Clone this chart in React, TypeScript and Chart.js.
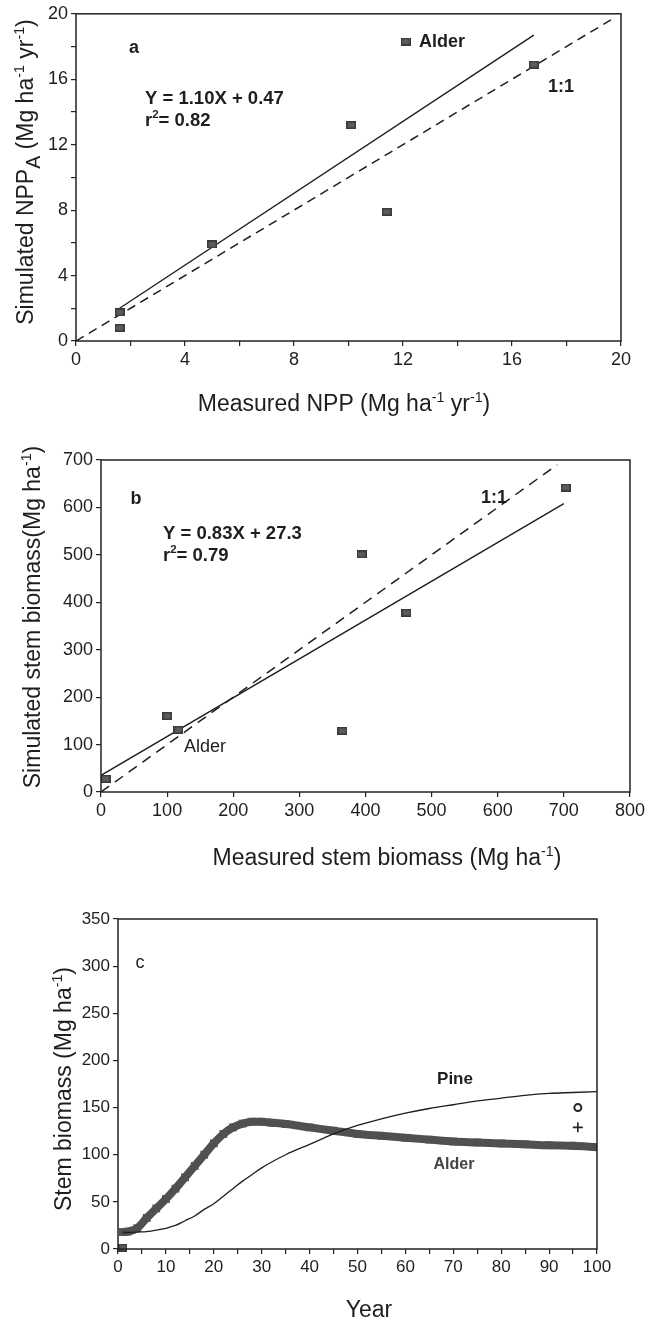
import React, { useEffect, useRef } from 'react';
import { Chart, registerables } from 'chart.js';

Chart.register(...registerables);

const FONT = "'Liberation Sans', Arial, Helvetica, sans-serif";

// ---------- Panel a : NPP ----------
const nppMeasured = [1.6, 1.6, 5.0, 10.1, 11.4, 12.1, 16.8];
const nppSimulated = [1.75, 0.8, 5.9, 13.2, 7.9, 18.3, 16.9];
const nppFitX = [1.6, 16.8];
const nppFitY = [2.0, 18.7];
const nppOneToOne = [0, 19.8];

// ---------- Panel b : stem biomass ----------
const stemMeasured = [7, 100, 117, 365, 394, 462, 703];
const stemSimulated = [28, 160, 131, 129, 501, 378, 642];
const stemFitX = [0, 700];
const stemFitY = [35, 608];
const stemOneToOne = [0, 690];

// ---------- Panel c : time course ----------
const years = [1, 2, 4, 6, 8, 10, 12, 14, 16, 18, 20, 22, 24, 26, 28, 30, 32, 35, 40, 45, 50, 55, 60, 65, 70, 75, 80, 85, 90, 95, 100];
const pineBiomass = [17.5, 17.5, 18, 18.5, 20, 22, 25, 30, 35, 42, 48, 56, 64, 72, 79, 86, 92, 100, 111, 122, 131, 138, 144, 149, 153, 157, 160, 163, 165, 166, 167];
const alderBiomass = [18, 18.5, 22, 33, 43, 53, 64, 76, 88, 100, 112, 122, 129, 133, 135, 135, 134, 132.5, 129, 125.5, 122, 120, 118, 116, 114, 113, 112, 111, 110, 109.5, 108];
const observedYear = [96];
const pineObserved = [150];
const alderObserved = [129];
const alderStartYear = [1];
const alderStartBiomass = [1.5];

type Seg = { t: string; v?: 'sup' | 'sub' };

function drawRich(
  ctx: CanvasRenderingContext2D,
  segs: Seg[],
  x: number,
  y: number,
  size: number,
  opts: { weight?: string; align?: 'left' | 'center'; rotate?: boolean; color?: string } = {}
) {
  ctx.save();
  ctx.translate(x, y);
  if (opts.rotate) ctx.rotate(-Math.PI / 2);
  const w = opts.weight || 'normal';
  const fontFor = (s: Seg) => {
    const fs = s.v === 'sup' ? size * 0.62 : s.v === 'sub' ? size * 0.85 : size;
    return `${w} ${fs}px ${FONT}`;
  };
  let total = 0;
  for (const s of segs) {
    ctx.font = fontFor(s);
    total += ctx.measureText(s.t).width;
  }
  let cx = opts.align === 'center' ? -total / 2 : 0;
  ctx.textBaseline = 'alphabetic';
  ctx.textAlign = 'left';
  ctx.fillStyle = opts.color || '#1e1e1e';
  for (const s of segs) {
    ctx.font = fontFor(s);
    const dy = s.v === 'sup' ? -size * 0.42 : s.v === 'sub' ? size * 0.3 : 0;
    ctx.fillText(s.t, cx, dy + size * 0.36);
    cx += ctx.measureText(s.t).width;
  }
  ctx.restore();
}

const boxPlugin = {
  id: 'box',
  afterDatasetsDraw(chart: any) {
    const { ctx, chartArea: a } = chart;
    ctx.save();
    ctx.strokeStyle = '#222';
    ctx.lineWidth = 1.5;
    ctx.strokeRect(a.left, a.top, a.right - a.left, a.bottom - a.top);
    ctx.restore();
  },
};

function textPlugin(draw: (ctx: CanvasRenderingContext2D) => void) {
  return {
    id: 'texts',
    afterDraw(chart: any) {
      draw(chart.ctx);
    },
  };
}

function axis(min: number, max: number, step: number, labelEvery: number, fit: { width?: number; height?: number }, fontSize: number) {
  return {
    type: 'linear',
    min,
    max,
    ticks: {
      stepSize: step,
      autoSkip: false,
      maxRotation: 0,
      padding: 3,
      color: '#1e1e1e',
      font: { family: FONT, size: fontSize },
      callback: (v: number) => (Math.round(v) % labelEvery === 0 ? String(v) : ''),
    },
    grid: { display: true, drawOnChartArea: false, drawTicks: true, tickLength: 5, color: '#222', lineWidth: 1.2 },
    border: { display: false },
    afterFit: (scale: any) => {
      if (fit.width != null) scale.width = fit.width;
      if (fit.height != null) scale.height = fit.height;
    },
  };
}

function makeMarker(w: number, h: number) {
  const c = document.createElement('canvas');
  c.width = w;
  c.height = h;
  const g = c.getContext('2d')!;
  g.fillStyle = '#3a3a3a';
  g.fillRect(0, 0, w, h);
  g.fillStyle = '#5c5c5c';
  g.fillRect(1.5, 1.5, w - 3, h - 3);
  return c;
}

const pts = (xs: number[], ys: number[]) => xs.map((x, i) => ({ x, y: ys[i] }));

const baseOptions = {
  responsive: false,
  animation: false,
  devicePixelRatio: 1,
  events: [],
  plugins: { legend: { display: false }, tooltip: { enabled: false } },
};

function buildA() {
  const marker = makeMarker(10, 8);
  return {
    type: 'scatter',
    data: {
      datasets: [
        { data: pts(nppMeasured, nppSimulated), pointStyle: marker, pointRadius: 5, showLine: false },
        { data: pts(nppFitX, nppFitY), showLine: true, borderColor: '#1e1e1e', borderWidth: 1.4, pointRadius: 0 },
        { data: pts(nppOneToOne, nppOneToOne), showLine: true, borderColor: '#1e1e1e', borderWidth: 1.5, borderDash: [9, 6], pointRadius: 0 },
      ],
    },
    options: {
      ...baseOptions,
      layout: { padding: { top: 10, right: 27, left: 0, bottom: 0 } },
      scales: {
        x: axis(0, 20, 2, 4, { height: 99 }, 18),
        y: axis(0, 20, 2, 4, { width: 76 }, 18),
      },
    },
    plugins: [
      boxPlugin,
      textPlugin((ctx) => {
        drawRich(ctx, [{ t: 'Measured NPP (Mg ha' }, { t: '-1', v: 'sup' }, { t: ' yr' }, { t: '-1', v: 'sup' }, { t: ')' }], 344, 403, 23, { align: 'center' });
        drawRich(ctx, [{ t: 'Simulated NPP' }, { t: 'A', v: 'sub' }, { t: ' (Mg ha' }, { t: '-1', v: 'sup' }, { t: ' yr' }, { t: '-1', v: 'sup' }, { t: ')' }], 25, 172, 23, { align: 'center', rotate: true });
        drawRich(ctx, [{ t: 'a' }], 134, 47, 18, { align: 'center', weight: 'bold' });
        drawRich(ctx, [{ t: 'Alder' }], 419, 41, 18, { weight: 'bold' });
        drawRich(ctx, [{ t: 'Y = 1.10X + 0.47' }], 145, 97, 18.5, { weight: 'bold' });
        drawRich(ctx, [{ t: 'r' }, { t: '2', v: 'sup' }, { t: '= 0.82' }], 145, 119, 18.5, { weight: 'bold' });
        drawRich(ctx, [{ t: '1:1' }], 548, 86, 18, { weight: 'bold' });
      }),
    ],
  };
}

function buildB() {
  const marker = makeMarker(10, 8);
  return {
    type: 'scatter',
    data: {
      datasets: [
        { data: pts(stemMeasured, stemSimulated), pointStyle: marker, pointRadius: 5, showLine: false },
        { data: pts(stemFitX, stemFitY), showLine: true, borderColor: '#1e1e1e', borderWidth: 1.4, pointRadius: 0 },
        { data: pts(stemOneToOne, stemOneToOne), showLine: true, borderColor: '#1e1e1e', borderWidth: 1.5, borderDash: [10, 7], pointRadius: 0 },
      ],
    },
    options: {
      ...baseOptions,
      layout: { padding: { top: 20, right: 16, left: 0, bottom: 0 } },
      scales: {
        x: axis(0, 800, 100, 100, { height: 88 }, 18),
        y: axis(0, 700, 100, 100, { width: 101 }, 18),
      },
    },
    plugins: [
      boxPlugin,
      textPlugin((ctx) => {
        drawRich(ctx, [{ t: 'Measured stem biomass (Mg ha' }, { t: '-1', v: 'sup' }, { t: ')' }], 387, 417, 23, { align: 'center' });
        drawRich(ctx, [{ t: 'Simulated stem biomass(Mg ha' }, { t: '-1', v: 'sup' }, { t: ')' }], 32, 177, 23, { align: 'center', rotate: true });
        drawRich(ctx, [{ t: 'b' }], 136, 58, 18, { align: 'center', weight: 'bold' });
        drawRich(ctx, [{ t: '1:1' }], 481, 57, 18, { weight: 'bold' });
        drawRich(ctx, [{ t: 'Y = 0.83X + 27.3' }], 163, 92, 18.5, { weight: 'bold' });
        drawRich(ctx, [{ t: 'r' }, { t: '2', v: 'sup' }, { t: '= 0.79' }], 163, 114, 18.5, { weight: 'bold' });
        drawRich(ctx, [{ t: 'Alder' }], 184, 306, 18);
      }),
    ],
  };
}

function buildC() {
  const marker = makeMarker(9, 8);
  return {
    type: 'scatter',
    data: {
      datasets: [
        { data: pts(years, pineBiomass), showLine: true, borderColor: '#1e1e1e', borderWidth: 1.3, pointRadius: 0, cubicInterpolationMode: 'monotone' },
        { data: pts(observedYear, pineObserved), pointStyle: 'circle', pointRadius: 3.5, borderWidth: 2, borderColor: '#222', backgroundColor: 'rgba(0,0,0,0)' },
        { data: pts(observedYear, alderObserved), pointStyle: 'cross', pointRadius: 5, borderWidth: 1.6, borderColor: '#222' },
        { data: pts(alderStartYear, alderStartBiomass), pointStyle: marker, pointRadius: 5, clip: false },
        {
          data: pts(years, alderBiomass),
          showLine: true,
          borderColor: '#505050',
          borderWidth: 8,
          cubicInterpolationMode: 'monotone',
          pointStyle: 'rect',
          pointRadius: 5.5,
          pointBackgroundColor: '#505050',
          pointBorderColor: '#505050',
          pointBorderWidth: 0,
        },
      ],
    },
    options: {
      ...baseOptions,
      layout: { padding: { top: 39, right: 51, left: 0, bottom: 0 } },
      scales: {
        x: axis(0, 100, 5, 10, { height: 71 }, 17),
        y: axis(0, 350, 50, 50, { width: 118 }, 17),
      },
    },
    plugins: [
      boxPlugin,
      textPlugin((ctx) => {
        drawRich(ctx, [{ t: 'Year' }], 369, 429, 23, { align: 'center' });
        drawRich(ctx, [{ t: 'Stem biomass (Mg ha' }, { t: '-1', v: 'sup' }, { t: ')' }], 63, 209, 23, { align: 'center', rotate: true });
        drawRich(ctx, [{ t: 'c' }], 140, 82, 18, { align: 'center' });
        drawRich(ctx, [{ t: 'Pine' }], 455, 198, 17, { align: 'center', weight: 'bold' });
        drawRich(ctx, [{ t: 'Alder' }], 454, 283, 16, { align: 'center', weight: 'bold', color: '#444' });
      }),
    ],
  };
}

function Panel({ top, height, build }: { top: number; height: number; build: () => any }) {
  const ref = useRef<HTMLCanvasElement | null>(null);
  useEffect(() => {
    const chart = new Chart(ref.current as HTMLCanvasElement, build());
    return () => chart.destroy();
  }, []);
  return (
    <canvas
      ref={ref}
      width={648}
      height={height}
      style={{ position: 'absolute', left: 0, top, width: 648, height, display: 'block' }}
    />
  );
}

export default function App() {
  return (
    <div style={{ position: 'absolute', left: 0, top: 0, width: 648, height: 1320, background: '#fff', overflow: 'hidden' }}>
      <Panel top={0} height={440} build={buildA} />
      <Panel top={440} height={440} build={buildB} />
      <Panel top={880} height={440} build={buildC} />
    </div>
  );
}
